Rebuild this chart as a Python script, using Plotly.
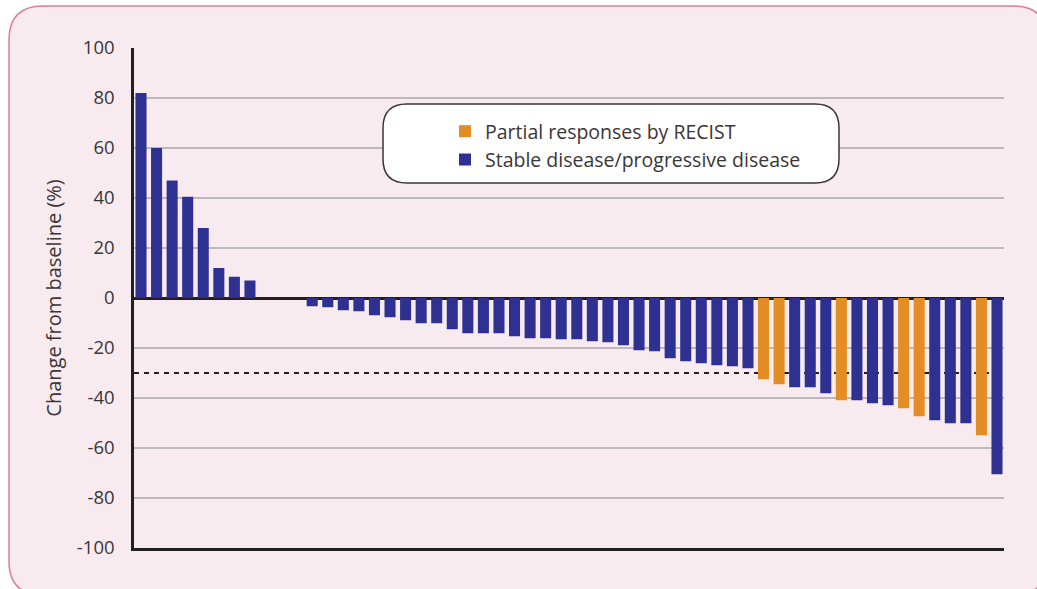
import plotly.graph_objects as go

# ---- data ----
patients = list(range(1, 57))
change_pct = [82.0, 60.0, 47.0, 40.5, 28.0, 12.0, 8.5, 7.0,
              0.0, 0.0, 0.0,
              -3.3, -3.7, -4.9, -5.3, -6.9, -7.7, -8.9, -10.1, -10.1, -12.5,
              -14.1, -14.1, -14.1, -15.3, -16.1, -16.1, -16.5, -16.5, -17.3, -17.7,
              -18.9, -20.9, -21.3, -24.1, -25.3, -26.1, -26.9, -27.3, -28.1, -32.5,
              -34.5, -35.7, -35.7, -38.1, -40.9, -40.9, -42.1, -42.9, -44.1, -47.3,
              -48.9, -50.1, -50.1, -54.9, -70.5]
response = ["SD"] * 56
for i in [40, 41, 45, 49, 50, 54]:
    response[i] = "PR"
threshold = -30
tick_vals = [-100, -80, -60, -40, -20, 0, 20, 40, 60, 80, 100]
tick_text = ["-100", "-80", "-60", "-40", "-20", "0", "20", "40", "60", "80", "100"]
series_names = {"PR": "Partial responses by RECIST", "SD": "Stable disease/progressive disease"}
series_colors = {"PR": "#E38D24", "SD": "#2E3192"}

# ---- geometry helpers (page pixel -> paper); body margin removed ----
W, H = 1037, 589
L, R, T, B = 134, 1004, 48, 548

def px(x):
    return (x - L) / (R - L)

def py(y):
    return (B - y) / (B - T)

def rounded_path(x0, y0, x1, y1, r):
    pts = []
    pts.append(f"M {px(x0 + r)},{py(y0)}")
    pts.append(f"L {px(x1 - r)},{py(y0)}")
    pts.append(f"Q {px(x1)},{py(y0)} {px(x1)},{py(y0 + r)}")
    pts.append(f"L {px(x1)},{py(y1 - r)}")
    pts.append(f"Q {px(x1)},{py(y1)} {px(x1 - r)},{py(y1)}")
    pts.append(f"L {px(x0 + r)},{py(y1)}")
    pts.append(f"Q {px(x0)},{py(y1)} {px(x0)},{py(y1 - r)}")
    pts.append(f"L {px(x0)},{py(y0 + r)}")
    pts.append(f"Q {px(x0)},{py(y0)} {px(x0 + r)},{py(y0)}")
    pts.append("Z")
    return " ".join(pts)

fig = go.Figure()
for key in ["PR", "SD"]:
    fig.add_trace(go.Bar(
        x=[p - 1 for p in patients],
        y=[v if r == key else None for v, r in zip(change_pct, response)],
        name=series_names[key],
        marker=dict(color=series_colors[key], line=dict(width=0)),
        showlegend=True,
    ))

font_family = "Open Sans, Lato, sans-serif"
text_color = "#3a3536"

fig.update_layout(
    width=W, height=H,
    margin=dict(l=L, r=W - R, t=T, b=H - B),
    paper_bgcolor="white",
    plot_bgcolor="rgba(0,0,0,0)",
    barmode="overlay",
    bargap=0.29,
    font=dict(family=font_family, color=text_color, size=19),
    legend=dict(
        x=px(445), y=py(112), xanchor="left", yanchor="top",
        bgcolor="rgba(0,0,0,0)", borderwidth=0,
        font=dict(size=19.5, color=text_color),
        tracegroupgap=0, itemwidth=30,
    ),
    xaxis=dict(
        range=[-0.45, 55.45], showticklabels=False, ticks="",
        showgrid=False, zeroline=False,
        showline=True, linecolor="#231F20", linewidth=2.5,
    ),
    yaxis=dict(
        range=[-100, 100], tickvals=tick_vals, ticktext=tick_text,
        showgrid=True, gridcolor="#BDB8BB", gridwidth=1.5,
        zeroline=True, zerolinecolor="#231F20", zerolinewidth=2.5,
        showline=True, linecolor="#231F20", linewidth=2.5,
        ticks="", ticklabelstandoff=13,
        tickfont=dict(size=18.5, color=text_color),
        title=dict(text="Change from baseline (%)", standoff=10,
                   font=dict(size=20, color=text_color)),
    ),
    shapes=[
        dict(type="path", xref="paper", yref="paper", layer="below",
             path=rounded_path(9, 6, 1047, 595, 34),
             fillcolor="#F8EBEF", line=dict(color="#DB7C9D", width=1.5)),
        dict(type="line", xref="paper", yref="y", layer="below",
             x0=0, x1=1, y0=threshold, y1=threshold,
             line=dict(color="#231F20", width=2, dash="5px,5px")),
        dict(type="path", xref="paper", yref="paper", layer="above",
             path=rounded_path(383, 104, 839, 183, 24),
             fillcolor="white", line=dict(color="#3a3536", width=1.5)),
    ],
)

fig.write_html(
    "out.html",
    config={"displayModeBar": False},
    post_script="document.body.style.margin='0px';document.body.style.overflow='hidden';",
)
